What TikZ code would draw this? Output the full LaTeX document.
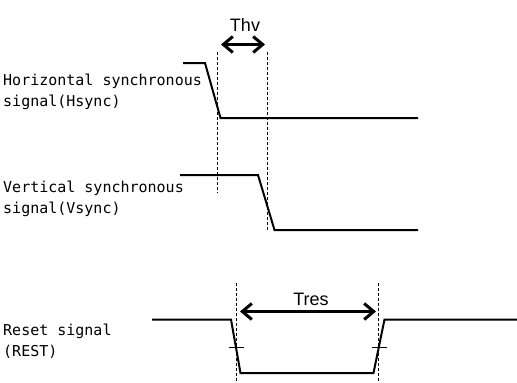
\documentclass[tikz,border=0pt]{standalone}
\usepackage{fontspec}
\setmainfont{Liberation Sans}
\newfontfamily\lblmono{DejaVu Sans Mono}
\usetikzlibrary{arrows.meta}
\tikzset{
  sig/.style={line width=2pt, line join=miter},
  guide/.style={line width=0.8pt, dash pattern=on 3pt off 2pt},
  tick/.style={line width=0.9pt},
  span/.style={line width=3pt, {Straight Barb[length=9.5pt,width=16pt]}-{Straight Barb[length=9.5pt,width=16pt]}},
  lbl/.style={anchor=base west, align=left, inner sep=0pt, font=\lblmono\fontsize{15pt}{21pt}\selectfont},
  tlbl/.style={anchor=base, inner sep=0pt, font=\fontsize{18pt}{20pt}\selectfont}
}
\begin{document}
\begin{tikzpicture}[x=1pt,y=-1pt]
\useasboundingbox (0,0) rectangle (517,383);
% labels (anchor = baseline of the last line)
\node[lbl] (lh) at (3,106) {Horizontal synchronous\\signal(Hsync)};
\node[lbl] (lv) at (3,213) {Vertical synchronous\\signal(Vsync)};
\node[lbl] (lr) at (3,356) {Reset signal\\(REST)};
% guides
\draw[guide] (217,52) -- (217,193);
\draw[guide] (267,52) -- (267,231);
\draw[guide] (236,283) -- (236,382);
\draw[guide] (378,283) -- (378,382);
% Hsync
\draw[sig] (183,63) -- (205,63) -- (220.5,118) -- (418,118);
% Vsync
\draw[sig] (180,175) -- (258,175) -- (274.5,230) -- (418,230);
% Reset
\draw[sig] (152,319.5) -- (231,319.5) -- (240.5,373) -- (373.5,373) -- (384.5,319.5) -- (517,319.5);
\draw[tick] (229,347.5) -- (244,347.5);
\draw[tick] (371.5,347.5) -- (387,347.5);
% Thv
\coordinate (thvA) at (221,44.5);
\coordinate (thvB) at (265,44.5);
\draw[span] (thvA) -- (thvB);
\node[tlbl] (thv) at (245,31) {Thv};
% Tres
\coordinate (trA) at (240,311.5);
\coordinate (trB) at (376,311.5);
\draw[span] (trA) -- (trB);
\node[tlbl] (tres) at (311,305) {Tres};
\end{tikzpicture}
\end{document}
